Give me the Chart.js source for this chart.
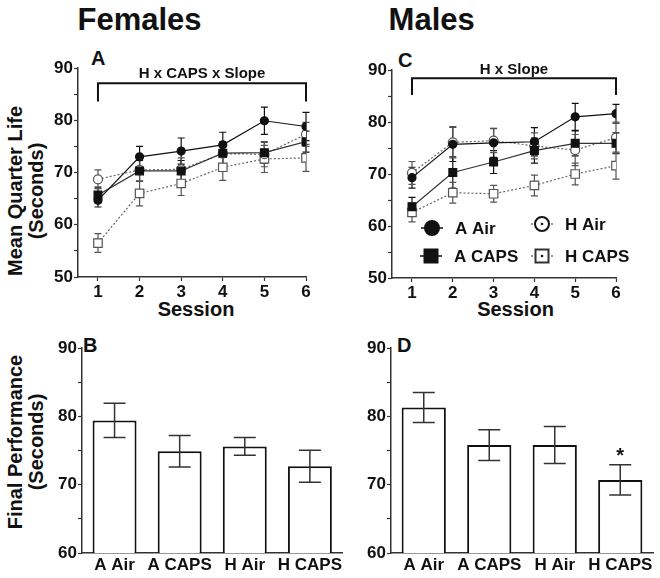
<!DOCTYPE html>
<html><head><meta charset="utf-8">
<script src="https://cdn.jsdelivr.net/npm/chart.js@4.4.1/dist/chart.umd.min.js"></script>
<style>
html,body{margin:0;padding:0;background:#fff;}
body{width:660px;height:578px;position:relative;overflow:hidden;font-family:"Liberation Sans",Arial,sans-serif;font-weight:bold;color:#111;}
canvas{position:absolute;}
.t{position:absolute;white-space:nowrap;line-height:1;}
.c{transform:translateX(-50%);}
.yt{position:absolute;text-align:center;line-height:21px;font-size:20px;transform:translate(-50%,-50%) rotate(-90deg);white-space:nowrap;}
</style></head><body>
<div class="t c" style="left:139.5px;top:4px;font-size:31px;">Females</div>
<div class="t c" style="left:431.7px;top:4px;font-size:31px;">Males</div>
<div class="t" style="left:91px;top:48px;font-size:20px;">A</div>
<div class="t" style="left:398px;top:50px;font-size:20px;">C</div>
<div class="t" style="left:83px;top:335px;font-size:20px;">B</div>
<div class="t" style="left:397px;top:335px;font-size:20px;">D</div>
<div class="t c" style="left:196px;top:299px;font-size:20px;">Session</div>
<div class="t c" style="left:515.5px;top:299px;font-size:20px;">Session</div>
<div class="yt" style="left:26px;top:191px;">Mean Quarter Life<br>(Seconds)</div>
<div class="yt" style="left:26px;top:442px;">Final Performance<br>(Seconds)</div>

<canvas id="cA" width="330" height="280" style="left:0;top:40px;"></canvas>
<canvas id="cC" width="330" height="280" style="left:330px;top:40px;"></canvas>
<canvas id="cB" width="344" height="248" style="left:0;top:330px;"></canvas>
<canvas id="cD" width="314" height="248" style="left:346px;top:330px;"></canvas>

<script>
// ---------- data ----------
const sessions = [1, 2, 3, 4, 5, 6];
const groups = ['A Air', 'A CAPS', 'H Air', 'H CAPS'];
const lineYTicks = [50, 60, 70, 80, 90];
const barYTicks = [60, 70, 80, 90];

// Females (panel A)
const femAAir = [64.7, 73.0, 74.1, 75.3, 79.9, 78.8];
const femAAirErr = [1.3, 2.0, 2.5, 2.4, 2.6, 2.7];
const femACaps = [65.7, 70.3, 70.3, 73.7, 73.8, 75.9];
const femACapsErr = [1.5, 2.0, 2.0, 2.0, 2.0, 2.0];
const femHAir = [68.7, 70.5, 70.6, 73.6, 73.5, 77.3];
const femHAirErr = [1.8, 2.2, 2.2, 2.3, 2.4, 2.3];
const femHCaps = [56.5, 66.0, 67.9, 71.0, 72.6, 72.8];
const femHCapsErr = [1.8, 2.4, 2.3, 2.5, 2.6, 2.6];

// Males (panel C)
const maleAAir = [69.3, 75.7, 76.0, 76.2, 81.0, 81.6];
const maleAAirErr = [2.0, 3.3, 2.8, 2.7, 2.6, 1.8];
const maleACaps = [63.7, 70.3, 72.3, 74.5, 75.9, 75.9];
const maleACapsErr = [1.8, 3.0, 2.2, 2.4, 2.4, 2.0];
const maleHAir = [70.2, 76.1, 76.4, 75.4, 74.6, 77.0];
const maleHAirErr = [2.2, 3.0, 2.3, 2.5, 3.0, 3.0];
const maleHCaps = [62.6, 66.4, 66.2, 67.8, 70.0, 71.6];
const maleHCapsErr = [1.8, 2.0, 1.6, 2.0, 2.1, 2.6];

// Final performance (panels B, D)
const femFinal = [79.4, 74.9, 75.6, 72.7];
const femFinalErr = [2.5, 2.3, 1.3, 2.35];
const maleFinal = [81.3, 75.8, 75.8, 70.7];
const maleFinalErr = [2.2, 2.25, 2.7, 2.2];

// ---------- plugins ----------
const FONT = '"Liberation Sans", Arial, sans-serif';

const errorBars = {
  id: 'errorBars',
  draw(chart, when) {
    const ctx = chart.ctx, ys = chart.scales.y;
    chart.data.datasets.forEach((ds, di) => {
      if (!ds.errors || ds.errWhen !== when) return;
      const meta = chart.getDatasetMeta(di);
      meta.data.forEach((el, i) => {
        const v = ds.values[i], e = ds.errors[i];
        const x = el.x, yt = ys.getPixelForValue(v + e), yb = ys.getPixelForValue(v - e);
        const cap = ds.errCap;
        ctx.save();
        ctx.strokeStyle = ds.errColor; ctx.lineWidth = ds.errWidth;
        ctx.beginPath();
        ctx.moveTo(x, yt); ctx.lineTo(x, yb);
        ctx.moveTo(x - cap, yt); ctx.lineTo(x + cap, yt);
        ctx.moveTo(x - cap, yb); ctx.lineTo(x + cap, yb);
        ctx.stroke();
        ctx.restore();
      });
    });
  },
  beforeDatasetsDraw(chart) { this.draw(chart, 'before'); },
  afterDatasetsDraw(chart) { this.draw(chart, 'after'); }
};

const bracket = {
  id: 'bracket',
  afterDraw(chart, args, o) {
    if (!o || !o.text) return;
    const ctx = chart.ctx, xs = chart.scales.x, ys = chart.scales.y;
    const x1 = xs.getPixelForValue(o.from), x2 = xs.getPixelForValue(o.to);
    const yl = ys.getPixelForValue(o.yLine), ye = ys.getPixelForValue(o.yEnd);
    ctx.save();
    ctx.strokeStyle = '#111'; ctx.lineWidth = 2;
    ctx.beginPath();
    ctx.moveTo(x1, ye); ctx.lineTo(x1, yl); ctx.lineTo(x2, yl); ctx.lineTo(x2, ye);
    ctx.stroke();
    ctx.fillStyle = '#111';
    ctx.font = 'bold ' + o.size + 'px ' + FONT;
    ctx.textAlign = 'center'; ctx.textBaseline = 'alphabetic';
    ctx.fillText(o.text, (x1 + x2) / 2 + (o.dx || 0), yl - o.gap);
    ctx.restore();
  }
};

const customLegend = {
  id: 'customLegend',
  afterDraw(chart, args, o) {
    if (!o || !o.items) return;
    const ctx = chart.ctx, ca = chart.chartArea;
    ctx.save();
    o.items.forEach(it => {
      const mx = ca.left + it.dx, my = ca.top + it.dy;
      ctx.strokeStyle = it.line; ctx.lineWidth = 1.5;
      ctx.setLineDash(it.dash ? [2, 2] : []);
      ctx.beginPath(); ctx.moveTo(mx - 11, my); ctx.lineTo(mx + 11, my); ctx.stroke();
      ctx.setLineDash([]);
      ctx.fillStyle = it.fill; ctx.strokeStyle = it.border; ctx.lineWidth = 2;
      ctx.beginPath();
      if (it.shape === 'circle') ctx.arc(mx, my, 7, 0, Math.PI * 2);
      else ctx.rect(mx - 6.5, my - 6.5, 13, 13);
      ctx.fill(); ctx.stroke();
      if (it.dot) { ctx.fillStyle = '#111'; ctx.beginPath(); ctx.arc(mx, my, 1.3, 0, Math.PI * 2); ctx.fill(); }
      ctx.fillStyle = '#111';
      ctx.font = 'bold 17px ' + FONT;
      ctx.textAlign = 'left'; ctx.textBaseline = 'middle';
      ctx.fillText(it.label, mx + 23, my + 1);
    });
    ctx.restore();
  }
};

const starMark = {
  id: 'starMark',
  afterDraw(chart, args, o) {
    if (!o || o.index === undefined) return;
    const ds = chart.data.datasets[0];
    const el = chart.getDatasetMeta(0).data[o.index];
    const y = chart.scales.y.getPixelForValue(ds.values[o.index] + ds.errors[o.index]);
    const ctx = chart.ctx;
    ctx.save();
    ctx.fillStyle = '#111'; ctx.font = 'bold 20px ' + FONT;
    ctx.textAlign = 'center'; ctx.textBaseline = 'alphabetic';
    ctx.fillText('*', el.x, y - 3);
    ctx.restore();
  }
};

Chart.register(errorBars);

// ---------- helpers ----------
function lineDataset(vals, errs, opts) {
  return Object.assign({
    data: sessions.map((s, i) => ({ x: s, y: vals[i] })),
    values: vals, errors: errs, errWhen: 'before', errCap: 3.5, errWidth: 1.2,
    borderWidth: 1.2, pointBorderWidth: 1.2, tension: 0
  }, opts);
}

function yScale(min, max, labelVals, width, fontSize) {
  return {
    type: 'linear', min: min, max: max,
    afterFit: s => { s.width = width; },
    afterBuildTicks: s => {
      const t = [];
      for (let v = min; v <= max; v += 5) t.push({ value: v });
      s.ticks = t;
    },
    ticks: {
      callback: v => labelVals.includes(v) ? String(v) : '',
      color: '#111', font: { family: FONT, weight: 'bold', size: fontSize }, padding: 1
    },
    grid: { drawOnChartArea: false, drawTicks: true, tickLength: 4, tickColor: '#333', tickWidth: 1.2 },
    border: { display: true, color: '#333', width: 1.5 }
  };
}

function lineChart(id, datasets, pad, yWidth, xHeight, extra) {
  return new Chart(document.getElementById(id), {
    type: 'line',
    data: { datasets: datasets },
    options: {
      responsive: false, animation: false, devicePixelRatio: 1,
      layout: { padding: { top: pad.top, right: pad.right, left: 0, bottom: 0 } },
      scales: {
        x: {
          type: 'linear', min: pad.xmin, max: 6,
          afterFit: s => { s.height = xHeight; },
          afterBuildTicks: s => { s.ticks = sessions.map(v => ({ value: v })); },
          ticks: { color: '#111', font: { family: FONT, weight: 'bold', size: 17 }, padding: 1, maxRotation: 0, minRotation: 0 },
          grid: { drawOnChartArea: false, drawTicks: true, tickLength: 4, tickColor: '#333', tickWidth: 1.2 },
          border: { display: true, color: '#333', width: 1.5 }
        },
        y: yScale(50, 90, lineYTicks, yWidth, 17)
      },
      plugins: Object.assign({ legend: { display: false }, tooltip: { enabled: false } }, extra.plugins)
    },
    plugins: extra.localPlugins
  });
}

function barChart(id, vals, errs, pad, yWidth, extraPlugins, localPlugins) {
  return new Chart(document.getElementById(id), {
    type: 'bar',
    data: {
      labels: groups,
      datasets: [{
        data: vals, values: vals, errors: errs, errWhen: 'after', errCap: 11, errWidth: 1.5, errColor: '#333',
        backgroundColor: '#fff', borderColor: '#111', borderWidth: 2, borderSkipped: 'bottom',
        barPercentage: 0.675, categoryPercentage: 1
      }]
    },
    options: {
      responsive: false, animation: false, devicePixelRatio: 1,
      layout: { padding: { top: pad.top, right: pad.right, left: 0, bottom: 0 } },
      scales: {
        x: {
          type: 'category', offset: true,
          afterFit: s => { s.height = 25; },
          ticks: { color: '#111', font: { family: FONT, weight: 'bold', size: 17 }, padding: 2, maxRotation: 0, minRotation: 0, autoSkip: false },
          grid: { drawOnChartArea: false, drawTicks: false },
          border: { display: true, color: '#333', width: 1.5 }
        },
        y: yScale(60, 90, barYTicks, yWidth, 17)
      },
      plugins: Object.assign({ legend: { display: false }, tooltip: { enabled: false } }, extraPlugins || {})
    },
    plugins: localPlugins || []
  });
}

const black = '#111', grey = '#666';

// Panel A
lineChart('cA', [
  lineDataset(femAAir, femAAirErr, { borderColor: black, pointStyle: 'circle', pointRadius: 4, pointBackgroundColor: black, pointBorderColor: black, errColor: black }),
  lineDataset(femACaps, femACapsErr, { borderColor: '#333', pointStyle: 'rect', pointRadius: 5.5, pointBackgroundColor: black, pointBorderColor: black, errColor: black }),
  lineDataset(femHAir, femHAirErr, { borderColor: grey, borderDash: [2, 2], pointStyle: 'circle', pointRadius: 4.5, pointBackgroundColor: '#fff', pointBorderColor: '#555', errColor: '#555' }),
  lineDataset(femHCaps, femHCapsErr, { borderColor: grey, borderDash: [2, 2], pointStyle: 'rect', pointRadius: 6, pointBackgroundColor: '#fff', pointBorderColor: '#555', errColor: '#555' })
], { top: 28, right: 24, xmin: 0.52 }, 78, 43, {
  plugins: { bracket: { from: 1, to: 6, yLine: 87.1, yEnd: 83.6, text: 'H x CAPS x Slope', size: 15, gap: 5 } },
  localPlugins: [bracket]
});

// Panel C
lineChart('cC', [
  lineDataset(maleAAir, maleAAirErr, { borderColor: black, pointStyle: 'circle', pointRadius: 4, pointBackgroundColor: black, pointBorderColor: black, errColor: black }),
  lineDataset(maleACaps, maleACapsErr, { borderColor: '#333', pointStyle: 'rect', pointRadius: 5.5, pointBackgroundColor: black, pointBorderColor: black, errColor: black }),
  lineDataset(maleHAir, maleHAirErr, { borderColor: grey, borderDash: [2, 2], pointStyle: 'circle', pointRadius: 4.5, pointBackgroundColor: '#fff', pointBorderColor: '#555', errColor: '#555' }),
  lineDataset(maleHCaps, maleHCapsErr, { borderColor: grey, borderDash: [2, 2], pointStyle: 'rect', pointRadius: 6, pointBackgroundColor: '#fff', pointBorderColor: '#555', errColor: '#555' })
], { top: 30, right: 44, xmin: 0.51 }, 62, 42, {
  plugins: {
    bracket: { from: 1, to: 6, yLine: 88.4, yEnd: 85.2, text: 'H x Slope', size: 15, gap: 4 },
    customLegend: { items: [
      { label: groups[0], shape: 'circle', fill: '#111', border: '#111', line: '#111', dx: 40, dy: 158 },
      { label: groups[2], shape: 'circle', fill: '#fff', border: '#111', line: '#777', dash: true, dot: true, dx: 150, dy: 154 },
      { label: groups[1], shape: 'rect', fill: '#111', border: '#111', line: '#111', dx: 39, dy: 186 },
      { label: groups[3], shape: 'rect', fill: '#fff', border: '#333', line: '#777', dash: true, dot: true, dx: 150, dy: 186 }
    ] }
  },
  localPlugins: [bracket, customLegend]
});

// Panel B
barChart('cB', femFinal, femFinalErr, { top: 18, right: 0 }, 82);
// Panel D
barChart('cD', maleFinal, maleFinalErr, { top: 18, right: 7 }, 45, { starMark: { index: 3 } }, [starMark]);
</script>
</body></html>
